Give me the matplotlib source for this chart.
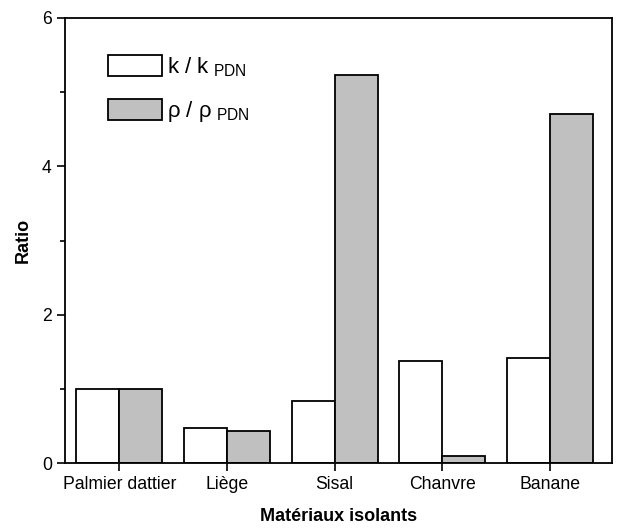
import matplotlib
matplotlib.use("Agg")
import matplotlib.pyplot as plt
from matplotlib.ticker import MultipleLocator
import numpy as np

categories = ["Palmier dattier", "Liège", "Sisal", "Chanvre", "Banane"]
k_ratio = [1.0, 0.47, 0.84, 1.38, 1.41]
rho_ratio = [1.0, 0.43, 5.23, 0.09, 4.71]

plt.rcParams['font.family'] = ['Liberation Sans', 'DejaVu Sans']
plt.rcParams['mathtext.fontset'] = 'custom'
plt.rcParams['mathtext.rm'] = 'Liberation Sans'

fig = plt.figure(figsize=(6.33, 5.31), dpi=100)
ax = fig.add_axes([65/633, 68/531, 547/633, 445/531])

x = np.arange(len(categories))
w = 0.4
ax.bar(x - w/2, k_ratio, w, color='white', edgecolor='black', linewidth=1.3,
       label=r'k / k$_{\rm\ PDN}$')
ax.bar(x + w/2, rho_ratio, w, color='#c0c0c0', edgecolor='black', linewidth=1.3,
       label='ρ / ρ$_{\\rm\\ PDN}$')

ax.set_xlim(-0.504, 4.576)
ax.set_ylim(0, 6)
ax.set_xticks(x)
ax.set_xticklabels(categories)
ax.set_yticks([0, 2, 4, 6])
ax.yaxis.set_minor_locator(MultipleLocator(1))
ax.tick_params(axis='both', which='major', direction='out', length=6, width=1.2, labelsize=12.7)
ax.tick_params(axis='y', which='minor', direction='out', length=3.5, width=1.2)
for s in ax.spines.values():
    s.set_linewidth(1.3)

ax.set_xlabel('Matériaux isolants', fontsize=13, fontweight='bold', labelpad=11)
ax.set_ylabel('Ratio', fontsize=13, fontweight='bold', labelpad=7)

ax.legend(loc='upper left', bbox_to_anchor=(0.042, 0.962), frameon=False,
          fontsize=16, handlelength=2.45, handleheight=1.1, handletextpad=0.2,
          labelspacing=0.9)

fig.savefig('out.png', dpi=100)
